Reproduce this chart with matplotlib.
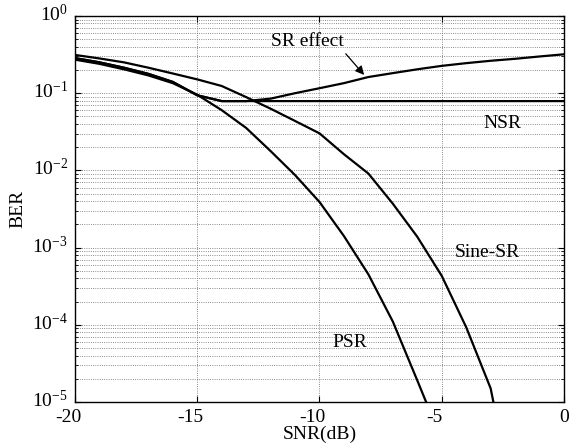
import numpy as np
import matplotlib
matplotlib.use('Agg')
import matplotlib.pyplot as plt
import matplotlib.transforms as mtransforms
from matplotlib.ticker import LogLocator, NullFormatter, MultipleLocator

plt.rcParams['font.family'] = ['Liberation Serif', 'DejaVu Serif']
plt.rcParams['mathtext.fontset'] = 'stix'
plt.rcParams['axes.unicode_minus'] = False
plt.rcParams['font.size'] = 14

################################################################################################

snr_sine = np.arange(-20, -1)
ber_sine = [0.313, 0.282, 0.251, 0.214, 0.180, 0.151, 0.124, 0.089, 0.063, 0.0437,
            0.0302, 0.0162, 9.1e-3, 3.7e-3, 1.38e-3, 4.3e-4, 9.3e-5, 1.5e-5, 4e-7]

snr_psr = np.arange(-20, -4)
ber_psr = [0.272, 0.240, 0.204, 0.170, 0.135, 0.0955, 0.0603, 0.0355, 0.0178, 8.7e-3,
           3.9e-3, 1.41e-3, 4.5e-4, 1.1e-4, 1.9e-5, 3.2e-6]

snr_nsr = np.arange(-20, 1)
ber_nsr = [0.285, 0.251, 0.214, 0.178, 0.140, 0.094, 0.079, 0.079, 0.079, 0.079, 0.079,
           0.079, 0.079, 0.079, 0.079, 0.079, 0.079, 0.079, 0.079, 0.079, 0.079]

snr_sr = np.arange(-20, 1)
ber_sr = [0.285, 0.251, 0.214, 0.178, 0.140, 0.094, 0.079, 0.079, 0.085, 0.100, 0.116,
          0.135, 0.162, 0.182, 0.204, 0.226, 0.245, 0.263, 0.279, 0.299, 0.319]

################################################################################################

fig = plt.figure(figsize=(5.79, 4.47), dpi=100)
ax = fig.add_axes([0.1295, 0.1007, 0.8446, 0.8635])

lw = 1.6
ax.semilogy(snr_sine, ber_sine, 'k-', lw=lw)
ax.semilogy(snr_psr, ber_psr, 'k-', lw=lw)
ax.semilogy(snr_nsr, ber_nsr, 'k-', lw=lw)
ax.semilogy(snr_sr, ber_sr, 'k-', lw=lw)

ax.set_xlim(-20, 0)
ax.set_ylim(1e-5, 1)
ax.xaxis.set_major_locator(MultipleLocator(5))
ax.yaxis.set_major_locator(LogLocator(base=10, numticks=10))
ax.yaxis.set_minor_locator(LogLocator(base=10, subs=np.arange(2, 10), numticks=10))
ax.yaxis.set_minor_formatter(NullFormatter())

ax.tick_params(which='both', direction='in', top=True, right=True)
ax.tick_params(which='major', length=4, width=0.8, labelsize=14)
ax.tick_params(which='minor', length=2, width=0.6)
ax.tick_params(axis='x', pad=5)
ax.tick_params(axis='y', pad=5)

ax.grid(True, which='major', ls=':', color='0.4', lw=0.6)
ax.grid(True, which='minor', axis='y', ls=':', color='0.4', lw=0.6)
for s in ax.spines.values():
    s.set_linewidth(1.0)

ax.set_xlabel('SNR(dB)', fontsize=14, labelpad=0)
ax.set_ylabel('BER', fontsize=14, labelpad=4)

# negative x labels hang a little to the left, y labels sit on the "10"
fig.canvas.draw()
xshift = mtransforms.ScaledTranslation(-0.07, 0, fig.dpi_scale_trans)
for lab in ax.get_xticklabels():
    if lab.get_text().startswith('-'):
        lab.set_transform(lab.get_transform() + xshift)
yshift = mtransforms.ScaledTranslation(0, 0.035, fig.dpi_scale_trans)
for lab in ax.get_yticklabels():
    lab.set_transform(lab.get_transform() + yshift)

ax.text(-10.5, 0.409, 'SR effect', fontsize=14, ha='center', va='baseline')
ax.annotate('', xy=(-8.1, 0.162), xytext=(-9.0, 0.345),
            arrowprops=dict(arrowstyle='-|>', color='k', lw=0.9, mutation_scale=13))
ax.text(-2.54, 0.0357, 'NSR', fontsize=14, ha='center', va='baseline')
ax.text(-3.13, 7.5e-4, 'Sine-SR', fontsize=14, ha='center', va='baseline')
ax.text(-8.75, 5.1e-5, 'PSR', fontsize=14, ha='center', va='baseline')

fig.savefig('out.png', dpi=100)
